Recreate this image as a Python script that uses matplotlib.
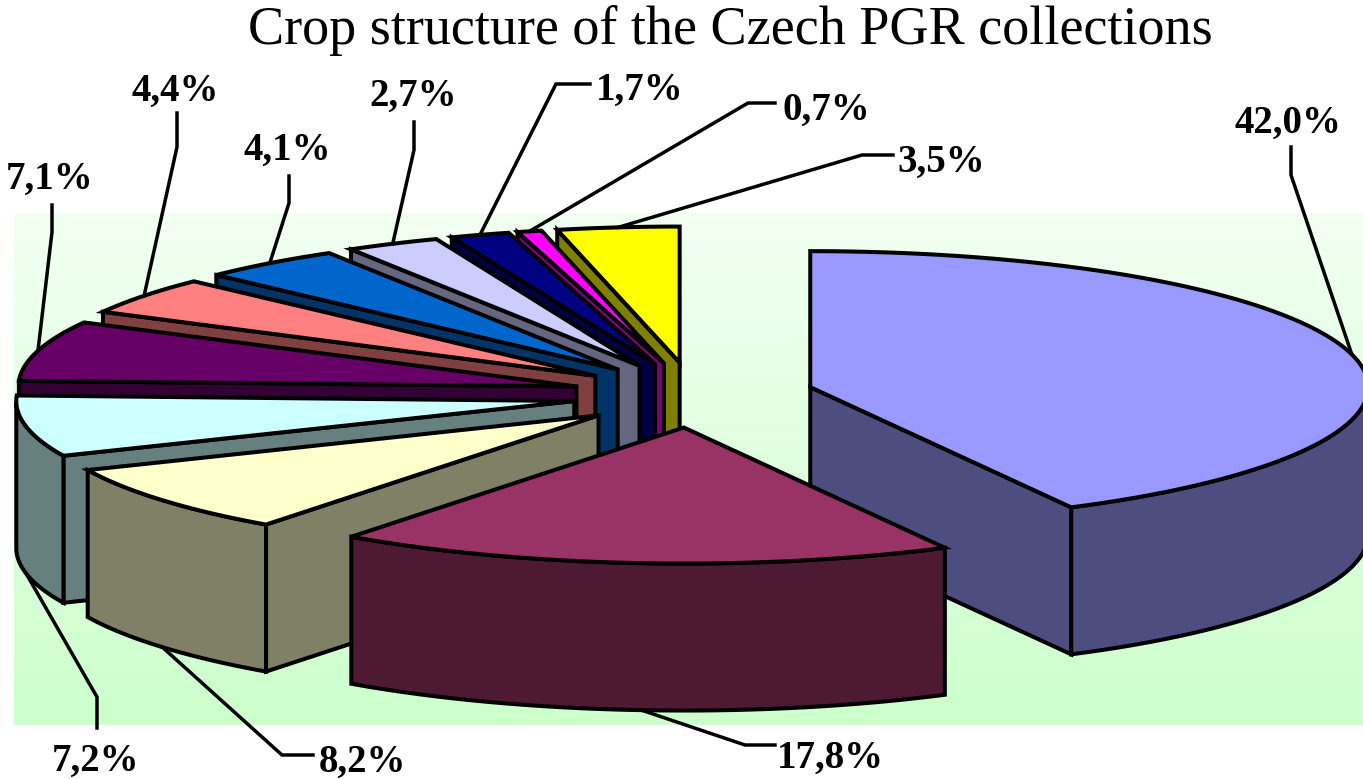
import numpy as np
import matplotlib
matplotlib.use("Agg")
import matplotlib.pyplot as plt
from matplotlib.colors import LinearSegmentedColormap

# share of each crop group, clockwise from 12 o'clock
values = [42.0, 17.8, 8.2, 7.2, 7.1, 4.4, 4.1, 2.7, 1.7, 0.7, 3.5]
labels = ['42,0%', '17,8%', '8,2%', '7,2%', '7,1%', '4,4%', '4,1%', '2,7%', '1,7%', '0,7%', '3,5%']
top_colors = ['#9999ff', '#993366', '#ffffcc', '#ccffff', '#660066', '#ff8080',
              '#0066cc', '#ccccff', '#000080', '#ff00ff', '#ffff00']
side_colors = ['#4d4d80', '#4d1933', '#808066', '#668080', '#330033', '#804040',
               '#003366', '#666680', '#000040', '#800080', '#808000']

# label layout: text centre, then the leader's two points on the label side
label_pos = [(1288, 123), (830, 758), (362, 762), (96, 761), (50, 179), (175, 91),
             (287, 150), (413, 96), (640, 90), (826, 110), (941, 162)]
elbows = [[(1291, 175), (1291, 147)], [(745, 745), (775, 745)], [(282, 755), (313, 755)],
          [(97, 697), (97, 728)], [(52, 232), (52, 205)], [(177, 147), (177, 113)],
          [(289, 203), (289, 176)], [(414, 150), (414, 122)], [(556, 84), (590, 84)],
          [(748, 103), (775, 103)], [(862, 155), (893, 155)]]

# pie geometry in pixels
cx, cy = 693, 395
rx, ry = 558, 136
depth = 147
explode_x, explode_y = 0.2165, 0.24
edge_lw = 2.9


fig = plt.figure(figsize=(13.63, 7.79), dpi=100)
ax = fig.add_axes([0, 0, 1, 1])
ax.axis('off')

# plot area background
cmap = LinearSegmentedColormap.from_list('bg', ['#f2fff2', '#ccffcc'])
ax.imshow(np.linspace(0, 1, 256).reshape(-1, 1), cmap=cmap, aspect='auto',
          extent=[14, 1363, 725, 213], zorder=0)
ax.set_xlim(0, 1363)
ax.set_ylim(779, 0)

fracs = np.array(values) / sum(values) * 2 * np.pi
ends = np.cumsum(fracs)
starts = ends - fracs
mids = (starts + ends) / 2

# draw from the back of the pie to the front
order = np.argsort(-np.cos(mids))
z = 2
for i in order:
    ax_x = cx + rx * explode_x * np.sin(mids[i])
    ax_y = cy - ry * explode_y * np.cos(mids[i])
    ang = np.linspace(starts[i], ends[i], 80)
    px = ax_x + rx * np.sin(ang)
    py = ax_y - ry * np.cos(ang)
    style = dict(edgecolor='black', linewidth=edge_lw, joinstyle='miter', zorder=z)

    # flat cut faces, only where they turn toward the viewer
    if np.sin(starts[i]) < -1e-6:
        ax.fill([ax_x, px[0], px[0], ax_x], [ax_y, py[0], py[0] + depth, ax_y + depth],
                facecolor=side_colors[i], **style)
    if np.sin(ends[i]) > 1e-6:
        ax.fill([ax_x, px[-1], px[-1], ax_x], [ax_y, py[-1], py[-1] + depth, ax_y + depth],
                facecolor=side_colors[i], **style)

    # outer rim, front half only
    front = np.cos(ang) < 0
    if front.any():
        fx, fy = px[front], py[front]
        ax.fill(np.r_[fx, fx[::-1]], np.r_[fy, fy[::-1] + depth],
                facecolor=side_colors[i], **style)

    ax.fill(np.r_[ax_x, px], np.r_[ax_y, py], facecolor=top_colors[i], **style)
    z += 1

    # leader from the rim middle, at the lower edge for front slices
    sx, sy = ax_x + rx * np.sin(mids[i]), ax_y - ry * np.cos(mids[i])
    if np.cos(mids[i]) < -0.1:
        sy += depth
    lx = [sx] + [p[0] for p in elbows[i]]
    ly = [sy] + [p[1] for p in elbows[i]]
    ax.plot(lx, ly, color='black', lw=2.5, zorder=50, solid_joinstyle='miter')
    ax.text(label_pos[i][0], label_pos[i][1], labels[i], family='Liberation Serif',
            fontweight='bold', fontsize=28, ha='center', va='center', zorder=60)

ax.text(730, 30, 'Crop structure of the Czech PGR collections', family='Liberation Serif',
        fontsize=39, ha='center', va='center', zorder=60)

fig.savefig('out.png', dpi=100)
